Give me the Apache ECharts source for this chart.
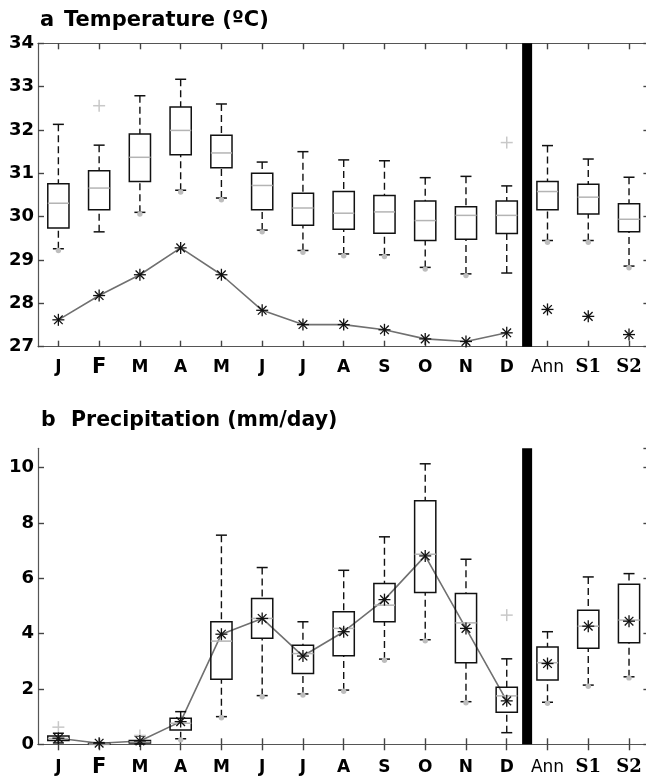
<!DOCTYPE html>
<html>
<head>
<meta charset="utf-8">
<script src="https://cdn.jsdelivr.net/npm/echarts@6/dist/echarts.min.js"></script>
<style>
html, body { margin: 0; padding: 0; background: #fff; }
#chart { width: 646px; height: 776px; }
</style>
</head>
<body>
<div id="chart"></div>
<script>
// Month / annual / season categories
const categories = ['J', 'F', 'M', 'A', 'M', 'J', 'J', 'A', 'S', 'O', 'N', 'D', 'Ann', 'S1', 'S2'];
const monthCount = 12;

// Temperature (ºC): box statistics per category
const tempLow     = [29.26, 29.65, 30.10, 30.61, 30.43, 29.69, 29.22, 29.14, 29.12, 28.83, 28.68, 28.70, 29.45, 29.45, 28.86];
const tempQ1      = [29.74, 30.16, 30.81, 31.43, 31.13, 30.16, 29.80, 29.71, 29.62, 29.45, 29.48, 29.61, 30.16, 30.06, 29.65];
const tempMedian  = [30.31, 30.66, 31.37, 31.99, 31.47, 30.72, 30.20, 30.08, 30.11, 29.91, 30.03, 30.03, 30.58, 30.45, 29.94];
const tempQ3      = [30.76, 31.06, 31.91, 32.53, 31.88, 31.00, 30.54, 30.58, 30.49, 30.36, 30.23, 30.36, 30.81, 30.75, 30.30];
const tempHigh    = [32.13, 31.65, 32.79, 33.17, 32.60, 31.26, 31.50, 31.31, 31.29, 30.90, 30.93, 30.71, 31.64, 31.33, 30.91];
const tempMean    = [27.62, 28.18, 28.66, 29.28, 28.66, 27.84, 27.51, 27.51, 27.39, 27.18, 27.12, 27.32, 27.86, 27.70, 27.28];
const tempOutHigh = [null, 32.56, null, null, null, null, null, null, null, null, null, 31.71, null, null, null];
const tempOutLow  = [29.22, null, 30.06, 30.57, 30.39, 29.65, 29.18, 29.10, 29.08, 28.79, 28.64, null, 29.41, 29.41, 28.82];

// Precipitation (mm/day): box statistics per category
const precLow     = [0.05, 0.00, 0.01, 0.20, 1.00, 1.76, 1.82, 1.96, 3.08, 3.78, 1.54, 0.42, 1.52, 2.14, 2.44];
const precQ1      = [0.14, 0.00, 0.05, 0.52, 2.35, 3.83, 2.56, 3.20, 4.43, 5.49, 2.95, 1.16, 2.32, 3.47, 3.67];
const precMedian  = [0.21, 0.01, 0.09, 0.76, 3.73, 4.55, 3.28, 4.19, 5.03, 6.87, 4.39, 1.75, 2.95, 4.27, 4.49];
const precQ3      = [0.30, 0.03, 0.14, 0.94, 4.43, 5.27, 3.58, 4.79, 5.81, 8.80, 5.45, 2.06, 3.52, 4.85, 5.79];
const precHigh    = [0.40, 0.06, 0.30, 1.18, 7.56, 6.39, 4.43, 6.29, 7.50, 10.14, 6.69, 3.09, 4.07, 6.05, 6.17];
const precMean    = [0.22, 0.04, 0.12, 0.82, 3.98, 4.55, 3.19, 4.07, 5.23, 6.81, 4.19, 1.57, 2.92, 4.27, 4.45];
const precOutHigh = [0.62, null, 0.32, null, null, null, null, null, null, null, null, 4.67, null, null, null];
const precOutLow  = [null, null, null, 0.16, 0.96, 1.72, 1.78, 1.92, 3.04, 3.74, 1.50, null, 1.48, 2.10, 2.40];

const BLACK = '#111';
const AXIS_COLOR = '#555';

function boxRows(lo, q1, md, q3, hi) {
  return categories.map((_, i) => [i, lo[i], q1[i], md[i], q3[i], hi[i]]);
}
function pointRows(vals) {
  const rows = [];
  vals.forEach((v, i) => { if (v !== null) rows.push([i, v]); });
  return rows;
}

function bandWidth(api) {
  return api.coord([1, 0])[0] - api.coord([0, 0])[0];
}

function renderBox(params, api) {
  const i = api.value(0);
  const pLo = api.coord([i, api.value(1)]);
  const pQ1 = api.coord([i, api.value(2)]);
  const pMd = api.coord([i, api.value(3)]);
  const pQ3 = api.coord([i, api.value(4)]);
  const pHi = api.coord([i, api.value(5)]);
  const x = pLo[0];
  const hw = bandWidth(api) * 0.26;
  const cw = 5.5;
  const dash = { stroke: BLACK, lineWidth: 1.4, lineDash: [7, 4] };
  const solid = { stroke: BLACK, lineWidth: 1.5 };
  return {
    type: 'group',
    children: [
      { type: 'line', shape: { x1: x, y1: pHi[1], x2: x, y2: pQ3[1] }, style: dash },
      { type: 'line', shape: { x1: x, y1: pLo[1], x2: x, y2: pQ1[1] }, style: dash },
      { type: 'line', shape: { x1: x - cw, y1: pHi[1], x2: x + cw, y2: pHi[1] }, style: solid },
      { type: 'line', shape: { x1: x - cw, y1: pLo[1], x2: x + cw, y2: pLo[1] }, style: solid },
      { type: 'rect', shape: { x: x - hw, y: pQ3[1], width: 2 * hw, height: pQ1[1] - pQ3[1] },
        style: { fill: 'none', stroke: BLACK, lineWidth: 1.5 } },
      { type: 'line', shape: { x1: x - hw, y1: pMd[1], x2: x + hw, y2: pMd[1] },
        style: { stroke: '#b4b4b4', lineWidth: 1.5 } }
    ]
  };
}

function renderAsterisk(params, api) {
  const p = api.coord([api.value(0), api.value(1)]);
  const r = 6, d = r * 0.72;
  const st = { stroke: BLACK, lineWidth: 1.3 };
  return {
    type: 'group',
    children: [
      { type: 'line', shape: { x1: p[0] - r, y1: p[1], x2: p[0] + r, y2: p[1] }, style: st },
      { type: 'line', shape: { x1: p[0], y1: p[1] - r, x2: p[0], y2: p[1] + r }, style: st },
      { type: 'line', shape: { x1: p[0] - d, y1: p[1] - d, x2: p[0] + d, y2: p[1] + d }, style: st },
      { type: 'line', shape: { x1: p[0] - d, y1: p[1] + d, x2: p[0] + d, y2: p[1] - d }, style: st }
    ]
  };
}

function renderPlus(params, api) {
  const p = api.coord([api.value(0), api.value(1)]);
  const r = 6;
  const st = { stroke: '#c8c8c8', lineWidth: 1.5 };
  return {
    type: 'group',
    children: [
      { type: 'line', shape: { x1: p[0] - r, y1: p[1], x2: p[0] + r, y2: p[1] }, style: st },
      { type: 'line', shape: { x1: p[0], y1: p[1] - r, x2: p[0], y2: p[1] + r }, style: st }
    ]
  };
}

function renderDot(params, api) {
  const p = api.coord([api.value(0), api.value(1)]);
  return { type: 'circle', shape: { cx: p[0], cy: p[1], r: 2.7 }, style: { fill: '#bdbdbd' } };
}

// thick divider between the monthly boxes and the annual / seasonal ones
function renderDivider(params, api) {
  const cs = params.coordSys;
  const x = api.coord([api.value(0), 0])[0] + bandWidth(api) / 2;
  return { type: 'rect', shape: { x: x - 5, y: cs.y, width: 10, height: cs.height }, style: { fill: '#000' } };
}

function labelFormatter(value, index) {
  if (index === 1) return '{big|' + value + '}';
  if (index < monthCount) return '{b|' + value + '}';
  if (index === monthCount) return '{ann|' + value + '}';
  return '{ser|' + value + '}';
}
const labelRich = {
  b:   { fontFamily: 'DejaVu Sans', fontWeight: 'bold', fontSize: 17, lineHeight: 17, color: '#000' },
  big: { fontFamily: 'DejaVu Sans', fontWeight: 'bold', fontSize: 21, lineHeight: 17, color: '#000' },
  ann: { fontFamily: 'DejaVu Sans', fontWeight: 'normal', fontSize: 17, lineHeight: 17, color: '#000' },
  ser: { fontFamily: 'DejaVu Serif', fontWeight: 'bold', fontSize: 18, lineHeight: 17, color: '#000' }
};

const tickStyle = { show: true, inside: true, length: 6, alignWithLabel: true, lineStyle: { color: '#444', width: 1.4 } };
const lineStyle = { show: true, lineStyle: { color: AXIS_COLOR, width: 1.2 } };

function xAxes(g, margin) {
  return [
    { type: 'category', gridIndex: g, data: categories, position: 'bottom', boundaryGap: true,
      axisLine: lineStyle, axisTick: tickStyle,
      axisLabel: { show: true, interval: 0, margin: margin, formatter: labelFormatter, rich: labelRich },
      splitLine: { show: false } },
    { type: 'category', gridIndex: g, data: categories, position: 'top', boundaryGap: true,
      axisLine: lineStyle, axisTick: tickStyle, axisLabel: { show: false }, splitLine: { show: false } }
  ];
}
function yAxes(g, min, max, interval) {
  const base = { type: 'value', gridIndex: g, min: min, max: max, interval: interval,
    axisLine: lineStyle, splitLine: { show: false },
    axisTick: { show: true, inside: true, length: 6, lineStyle: { color: '#444', width: 1.4 } } };
  return [
    Object.assign({}, base, { position: 'left',
      axisLabel: { show: true, margin: 4, showMaxLabel: Number.isInteger((max - min) / interval),
        fontFamily: 'DejaVu Sans', fontWeight: 'bold', fontSize: 18, color: '#000' } }),
    Object.assign({}, base, { position: 'right', axisLabel: { show: false } })
  ];
}

function panelSeries(g, box, mean, outHigh, outLow) {
  const ax = { xAxisIndex: 2 * g, yAxisIndex: 2 * g };
  return [
    Object.assign({ type: 'custom', renderItem: renderDivider, data: [[monthCount - 1]], silent: true, z: 1 }, ax),
    Object.assign({ type: 'line', data: mean.slice(0, monthCount), symbol: 'none', silent: true, z: 2,
      lineStyle: { color: '#707070', width: 1.6 } }, ax),
    Object.assign({ type: 'custom', renderItem: renderBox, data: box, silent: true, z: 3,
      encode: { x: 0, y: [1, 2, 3, 4, 5] } }, ax),
    Object.assign({ type: 'custom', renderItem: renderDot, data: pointRows(outLow), silent: true, z: 4,
      encode: { x: 0, y: 1 } }, ax),
    Object.assign({ type: 'custom', renderItem: renderPlus, data: pointRows(outHigh), silent: true, z: 4,
      encode: { x: 0, y: 1 } }, ax),
    Object.assign({ type: 'custom', renderItem: renderAsterisk, data: pointRows(mean), silent: true, z: 5,
      encode: { x: 0, y: 1 } }, ax)
  ];
}

const titleStyle = { fontFamily: 'DejaVu Sans', fontWeight: 'bold', fontSize: 21, color: '#000' };
const titleStyleB = Object.assign({}, titleStyle, { fontSize: 20.5 });

const option = {
  animation: false,
  backgroundColor: '#fff',
  title: [
    { text: 'a', left: 40, top: 10, padding: 0, textStyle: titleStyle },
    { text: 'Temperature (ºC)', left: 64, top: 10, padding: 0, textStyle: titleStyle },
    { text: 'b', left: 41, top: 410, padding: 0, textStyle: titleStyleB },
    { text: 'Precipitation (mm/day)', left: 71, top: 410, padding: 0, textStyle: titleStyleB }
  ],
  grid: [
    { left: 38, top: 43.3, width: 611.4, height: 303.4, outerBoundsMode: 'none', containLabel: false },
    { left: 38, top: 448.3, width: 611.4, height: 296, outerBoundsMode: 'none', containLabel: false }
  ],
  xAxis: [].concat(xAxes(0, 12), xAxes(1, 15)),
  yAxis: [].concat(yAxes(0, 27, 34, 1), yAxes(1, 0, 10.7, 2)),
  series: [].concat(
    panelSeries(0, boxRows(tempLow, tempQ1, tempMedian, tempQ3, tempHigh), tempMean, tempOutHigh, tempOutLow),
    panelSeries(1, boxRows(precLow, precQ1, precMedian, precQ3, precHigh), precMean, precOutHigh, precOutLow)
  )
};

const chart = echarts.init(document.getElementById('chart'), null, { renderer: 'canvas' });
chart.setOption(option);
</script>
</body>
</html>
